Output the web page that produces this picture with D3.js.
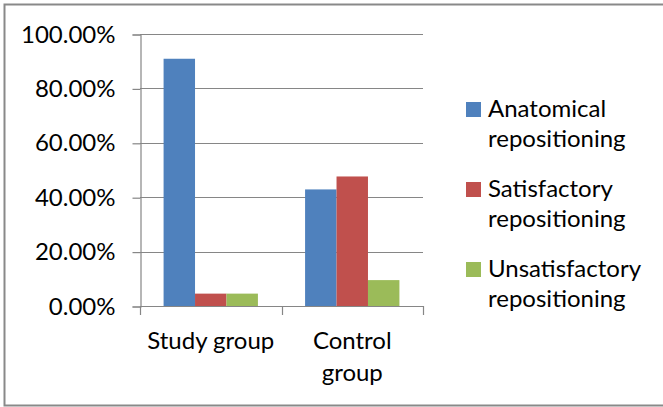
<!DOCTYPE html>
<html>
<head>
<meta charset="utf-8">
<script src="https://cdn.jsdelivr.net/npm/d3@7"></script>
<style>
  html, body { margin: 0; padding: 0; background: #fff; }
  svg { display: block; }
  text { font-family: Lato, "Liberation Sans", sans-serif; fill: #000; }
</style>
</head>
<body>
<svg id="chart" width="663" height="407"></svg>
<script>
// Repositioning outcome by group (share of patients)
const categories = ["Study group", "Control group"];
const seriesNames = ["Anatomical repositioning", "Satisfactory repositioning", "Unsatisfactory repositioning"];
const anatomical = [0.909, 0.4286];
const satisfactory = [0.0455, 0.4762];
const unsatisfactory = [0.0455, 0.0952];
const seriesColors = ["#4F81BD", "#C0504D", "#9BBB59"];
const yTicks = [0, 0.2, 0.4, 0.6, 0.8, 1.0];

const seriesValues = [anatomical, satisfactory, unsatisfactory];

const svg = d3.select("#chart");
const fontSize = 24;

// outer chart frame
svg.append("rect")
  .attr("x", 4.5).attr("y", 4.5)
  .attr("width", 664).attr("height", 401)
  .attr("fill", "#fff")
  .attr("stroke", "#898989").attr("stroke-width", 2);

const plot = { left: 140, right: 423, top: 34, bottom: 306 };

const x0 = d3.scaleBand().domain(categories).range([plot.left, plot.right]).padding(0);
const x1 = d3.scaleBand().domain(d3.range(seriesNames.length))
  .range([0, x0.bandwidth()]).paddingInner(0).paddingOuter(0.75);
const y = d3.scaleLinear().domain([0, 1]).range([plot.bottom, plot.top]);

const gridColor = "#868686";

// horizontal gridlines
svg.append("g").selectAll("line").data(yTicks.filter(d => d > 0)).join("line")
  .attr("x1", plot.left).attr("x2", plot.right)
  .attr("y1", d => Math.round(y(d)) + 0.5).attr("y2", d => Math.round(y(d)) + 0.5)
  .attr("stroke", gridColor).attr("stroke-width", 1.2);

// y axis
const yAxis = svg.append("g")
  .attr("transform", `translate(${plot.left + 0.5},0.5)`)
  .call(d3.axisLeft(y).tickValues(yTicks).tickFormat(d3.format(".2%")).tickSize(8).tickPadding(17));
yAxis.select(".domain").attr("stroke", gridColor).attr("stroke-width", 1.2);
yAxis.selectAll(".tick line").attr("stroke", gridColor).attr("stroke-width", 1.2);
yAxis.selectAll(".tick text")
  .style("font-family", "Lato, 'Liberation Sans', sans-serif")
  .style("font-size", fontSize + "px").attr("fill", "#000");

// bars
categories.forEach((cat, ci) => {
  svg.append("g").selectAll("rect").data(seriesValues.map((vals, si) => ({ si, v: vals[ci] }))).join("rect")
    .attr("x", d => x0(cat) + x1(d.si))
    .attr("y", d => y(d.v))
    .attr("width", x1.bandwidth())
    .attr("height", d => y(0) - y(d.v))
    .attr("fill", d => seriesColors[d.si]);
});

// category axis line and boundary ticks
svg.append("line")
  .attr("x1", plot.left).attr("x2", plot.right)
  .attr("y1", plot.bottom + 0.5).attr("y2", plot.bottom + 0.5)
  .attr("stroke", gridColor).attr("stroke-width", 1.2);
const bounds = categories.map(c => x0(c)).concat([plot.right]);
svg.append("g").selectAll("line").data(bounds).join("line")
  .attr("x1", d => Math.round(d) + 0.5).attr("x2", d => Math.round(d) + 0.5)
  .attr("y1", plot.bottom).attr("y2", plot.bottom + 9)
  .attr("stroke", gridColor).attr("stroke-width", 1.2);

// category labels, wrapped to the band width
const catG = svg.append("g");
categories.forEach(cat => {
  const cx = x0(cat) + x0.bandwidth() / 2;
  const t = catG.append("text")
    .attr("x", cx).attr("y", 349)
    .attr("text-anchor", "middle")
    .style("font-size", fontSize + "px");
  t.text(cat);
  if (t.node().getComputedTextLength() > x0.bandwidth() - 6) {
    t.text(null);
    cat.split(" ").forEach((w, i) => {
      t.append("tspan").attr("x", cx).attr("dy", i === 0 ? 0 : 32).text(w);
    });
  }
});

// legend
const legend = svg.append("g");
const legendTop = 117;
const entryGap = 80;
seriesNames.forEach((name, i) => {
  const base = legendTop + i * entryGap;
  legend.append("rect")
    .attr("x", 466).attr("y", base - 15)
    .attr("width", 15).attr("height", 15)
    .attr("fill", seriesColors[i]);
  const t = legend.append("text").attr("x", 488).attr("y", base)
    .style("font-size", fontSize + "px");
  name.split(" ").forEach((w, k) => {
    t.append("tspan").attr("x", 488).attr("dy", k === 0 ? 0 : 30).text(w);
  });
});
</script>
</body>
</html>
